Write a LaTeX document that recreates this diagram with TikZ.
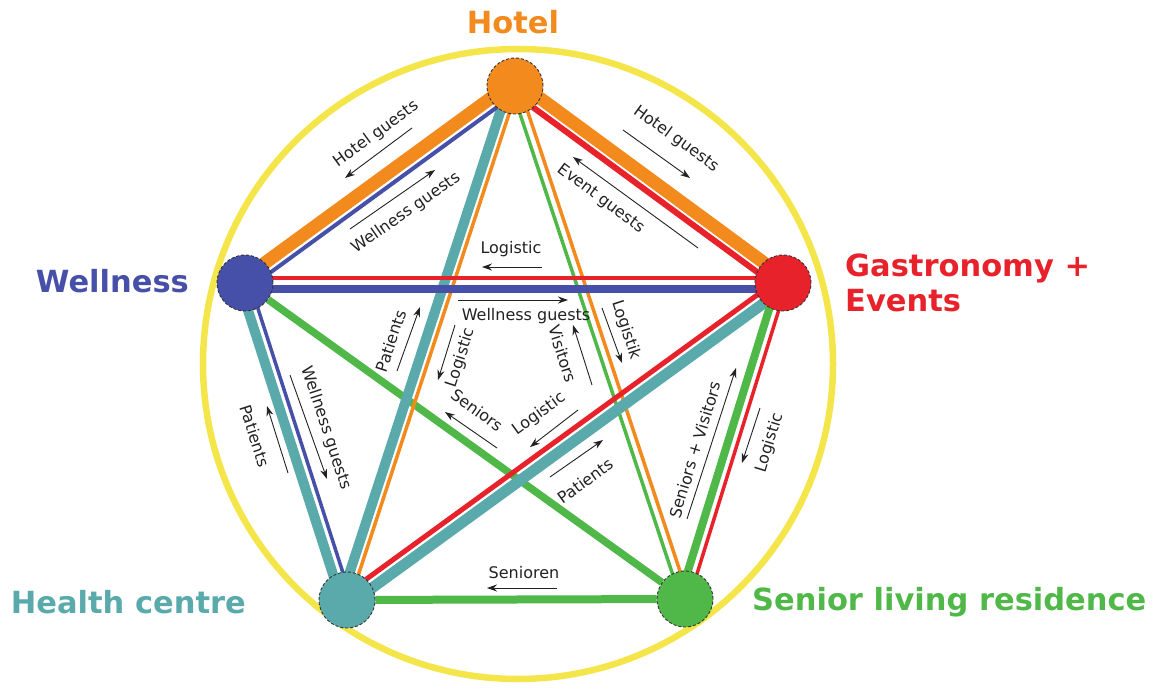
\documentclass[tikz,border=0pt]{standalone}
\usepackage{fontspec}
\setmainfont{DejaVu Sans}
\usetikzlibrary{calc,arrows.meta,backgrounds}
\definecolor{hotelc}{HTML}{F28A1E}
\definecolor{wellc}{HTML}{4750A8}
\definecolor{gastc}{HTML}{E8222B}
\definecolor{healthc}{HTML}{5AAAAC}
\definecolor{seniorc}{HTML}{50B848}
\definecolor{ringc}{HTML}{F4E64A}
\definecolor{inkc}{HTML}{222222}
\newcommand\edgeband[5]{%
  \draw[line width=#4, #5] ($(#1)!#3!90:(#2)$) -- ($(#2)!#3!-90:(#1)$);}
\tikzset{
  hub/.style={circle, minimum size=56pt, inner sep=0pt, draw=black!80, densely dashed, line width=0.9pt},
  big/.style={font=\fontsize{30.5}{35}\selectfont\bfseries, inner sep=0pt},
  ann/.style={font=\fontsize{16}{19}\selectfont, text=inkc, inner sep=0pt},
  arr/.style={-{Stealth[length=10pt,width=7pt]}, line width=0.9pt, inkc},
}
\begin{document}
\begin{tikzpicture}[x=1pt,y=-1pt]
\useasboundingbox (0,0) rectangle (1165,695);
% hubs
\node[hub, fill=hotelc]  (H) at (515,86) {};
\node[hub, fill=wellc]   (W) at (245,283) {};
\node[hub, fill=gastc]   (G) at (783,283) {};
\node[hub, fill=healthc] (C) at (347,600) {};
\node[hub, fill=seniorc] (S) at (685,599) {};
\begin{pgfonlayer}{background}
  \draw[ringc, line width=6.5pt] (518,364) circle[radius=315pt];
  % single links
  \draw[seniorc, line width=7.5pt] (W) -- (S);
  \draw[seniorc, line width=8pt] (C) -- (S);
  % Hotel - Health
  \edgeband{H}{C}{-6pt}{10pt}{healthc}
  \edgeband{H}{C}{3pt}{3.5pt}{hotelc}
  % Hotel - Senior
  \edgeband{H}{S}{-4pt}{3.5pt}{seniorc}
  \edgeband{H}{S}{4pt}{3.5pt}{hotelc}
  % Wellness - Gastronomy
  \edgeband{W}{G}{5pt}{4.5pt}{gastc}
  \edgeband{W}{G}{-6pt}{8pt}{wellc}
  % Gastronomy - Health
  \edgeband{C}{G}{5.5pt}{5pt}{gastc}
  \edgeband{C}{G}{-5pt}{11pt}{healthc}
  % Gastronomy - Senior
  \edgeband{S}{G}{5.5pt}{8pt}{seniorc}
  \edgeband{S}{G}{-4pt}{3.5pt}{gastc}
  % Wellness - Health
  \edgeband{W}{C}{-5.5pt}{10pt}{healthc}
  \edgeband{W}{C}{4.5pt}{3.5pt}{wellc}
  % Hotel - Wellness
  \edgeband{W}{H}{4.5pt}{13pt}{hotelc}
  \edgeband{W}{H}{-6.5pt}{4pt}{wellc}
  % Hotel - Gastronomy
  \edgeband{H}{G}{5pt}{13pt}{hotelc}
  \edgeband{H}{G}{-6.5pt}{6pt}{gastc}
\end{pgfonlayer}
% hub labels
\node[big, text=hotelc] (Hl) at (513,22) {Hotel};
\node[big, text=wellc, anchor=east] (Wl) at (189,281) {Wellness};
\node[big, text=gastc, anchor=west, align=left] (Gl) at (845,283) {Gastronomy +\\Events};
\node[big, text=healthc, anchor=east] (Cl) at (246,602) {Health centre};
\node[big, text=seniorc, anchor=west] (Sl) at (752,602) {Senior living residence};
% flow annotations
\coordinate (a1s) at (412,128); \coordinate (a1e) at (345,178);
\draw[arr] (a1s) -- (a1e);
\node[ann, rotate=36] (t1) at (376,134) {Hotel guests};
\coordinate (a2s) at (350,229); \coordinate (a2e) at (435,170);
\draw[arr] (a2s) -- (a2e);
\node[ann, rotate=35] (t2) at (406,213) {Wellness guests};
\coordinate (a3s) at (623,130); \coordinate (a3e) at (690,178);
\draw[arr] (a3s) -- (a3e);
\node[ann, rotate=-36] (t3) at (676,139) {Hotel guests};
\coordinate (a4s) at (698,248); \coordinate (a4e) at (573,157);
\draw[arr] (a4s) -- (a4e);
\node[ann, rotate=-37] (t4) at (601,199) {Event guests};
\coordinate (a5s) at (542,267); \coordinate (a5e) at (482,267);
\draw[arr] (a5s) -- (a5e);
\node[ann] (t5) at (511,249) {Logistic};
\coordinate (a6s) at (458,300); \coordinate (a6e) at (568,300);
\draw[arr] (a6s) -- (a6e);
\node[ann] (t6) at (526,316) {Wellness guests};
\coordinate (a7s) at (397,371); \coordinate (a7e) at (420,307);
\draw[arr] (a7s) -- (a7e);
\node[ann, rotate=72] (t7) at (391,341) {Patients};
\coordinate (a8s) at (455,325); \coordinate (a8e) at (438,380);
\draw[arr] (a8s) -- (a8e);
\node[ann, rotate=72] (t8) at (461,358) {Logistic};
\coordinate (a9s) at (592,385); \coordinate (a9e) at (573,325);
\draw[arr] (a9s) -- (a9e);
\node[ann, rotate=-72] (t9) at (563,354) {Visitors};
\coordinate (a10s) at (602,308); \coordinate (a10e) at (622,363);
\draw[arr] (a10s) -- (a10e);
\node[ann, rotate=-72] (t10) at (626,330) {Logistik};
\coordinate (a11s) at (497,448); \coordinate (a11e) at (445,412);
\draw[arr] (a11s) -- (a11e);
\node[ann, rotate=-36] (t11) at (477,410) {Seniors};
\coordinate (a12s) at (578,410); \coordinate (a12e) at (530,447);
\draw[arr] (a12s) -- (a12e);
\node[ann, rotate=36] (t12) at (539,414) {Logistic};
\coordinate (a13s) at (550,477); \coordinate (a13e) at (603,440);
\draw[arr] (a13s) -- (a13e);
\node[ann, rotate=36] (t13) at (585,481) {Patients};
\coordinate (a14s) at (687,519); \coordinate (a14e) at (736,368);
\draw[arr] (a14s) -- (a14e);
\node[ann, rotate=73] (t14) at (695,450) {Seniors + Visitors};
\coordinate (a15s) at (760,408); \coordinate (a15e) at (742,463);
\draw[arr] (a15s) -- (a15e);
\node[ann, rotate=73] (t15) at (770,443) {Logistic};
\coordinate (a16s) at (290,375); \coordinate (a16e) at (327,479);
\draw[arr] (a16s) -- (a16e);
\node[ann, rotate=-72] (t16) at (326,428) {Wellness guests};
\coordinate (a17s) at (288,473); \coordinate (a17e) at (267,406);
\draw[arr] (a17s) -- (a17e);
\node[ann, rotate=-72] (t17) at (255,436) {Patients};
\coordinate (a18s) at (557,588); \coordinate (a18e) at (487,588);
\draw[arr] (a18s) -- (a18e);
\node[ann] (t18) at (524,573) {Senioren};
\end{tikzpicture}
\end{document}
